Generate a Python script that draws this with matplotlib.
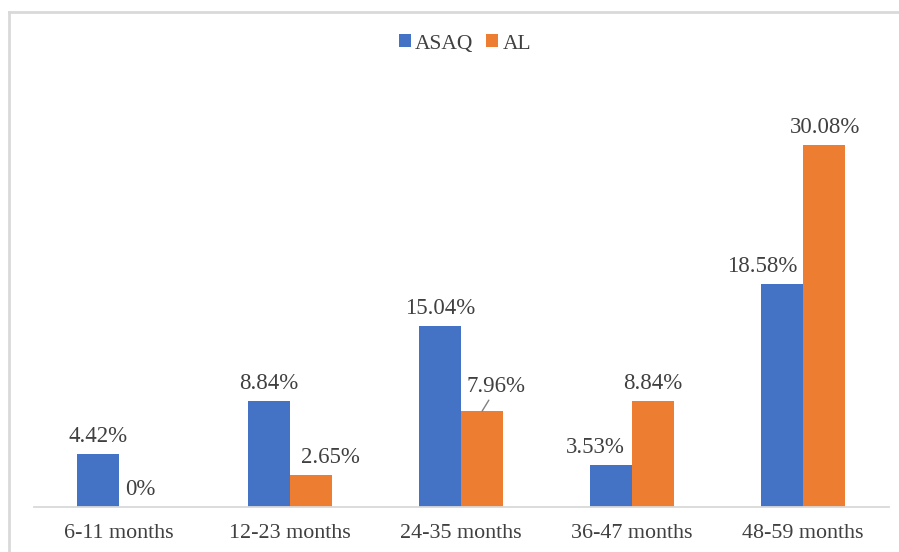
import matplotlib
matplotlib.use("Agg")
import matplotlib.pyplot as plt
import numpy as np
from matplotlib.lines import Line2D

categories = ["6-11 months", "12-23 months", "24-35 months", "36-47 months", "48-59 months"]
asaq = [4.42, 8.84, 15.04, 3.53, 18.58]
al = [0.0, 2.65, 7.96, 8.84, 30.08]
asaq_labels = ["4.42%", "8.84%", "15.04%", "3.53%", "18.58%"]
al_labels = ["0%", "2.65%", "7.96%", "8.84%", "30.08%"]

plt.rcParams['font.family'] = ['Liberation Serif', 'DejaVu Serif']

W, H = 899, 552
fig = plt.figure(figsize=(W / 100, H / 100), dpi=100)
fig.patch.set_facecolor("white")

# outer border (left and top visible)
fig.add_artist(Line2D([9 / W, 9 / W], [0, 1 - 12 / H], transform=fig.transFigure,
                      color="#D9D9D9", lw=2))
fig.add_artist(Line2D([9 / W, 1.0], [1 - 12 / H, 1 - 12 / H], transform=fig.transFigure,
                      color="#D9D9D9", lw=2))

left, right = 33.5 / W, 888.5 / W
bottom = (H - 507) / H
top = (H - 86) / H
ax = fig.add_axes([left, bottom, right - left, top - bottom])

x = np.arange(len(categories))
bw = 0.246
blue = "#4472C4"
orange = "#ED7D31"
ax.bar(x - bw / 2, asaq, bw, color=blue, label="ASAQ")
ax.bar(x + bw / 2, al, bw, color=orange, label="AL")

ax.set_xlim(-0.5, len(categories) - 0.5)
ax.set_ylim(0, 35)
ax.set_yticks([])
for s in ["top", "right", "left"]:
    ax.spines[s].set_visible(False)
ax.spines["bottom"].set_color("#D9D9D9")
ax.spines["bottom"].set_linewidth(1.3)
ax.set_xticks(x)
ax.set_xticklabels(categories, fontsize=15.8, color="#404040")
ax.tick_params(axis="x", length=0, pad=12)

lc = "#404040"
fs = 16.5
# horizontal nudges of data labels (points), as placed in the original
asaq_dx = [0, 0, 0, -11, -14]
al_dx = [0, 14, 10, 0, 1]
for i, (v, t) in enumerate(zip(asaq, asaq_labels)):
    ax.annotate(t, (x[i] - bw / 2, v), xytext=(asaq_dx[i], 5), textcoords="offset points",
                ha="center", va="bottom", fontsize=fs, color=lc)
for i, (v, t) in enumerate(zip(al, al_labels)):
    if i == 2:
        ax.annotate(t, (x[i] + bw / 2, v), xytext=(al_dx[i], 10), textcoords="offset points",
                    ha="center", va="bottom", fontsize=fs, color=lc,
                    arrowprops=dict(arrowstyle="-", color="#808080", lw=1,
                                    shrinkA=0, shrinkB=0,
                                    relpos=(0.42, 0.05)))
    else:
        ax.annotate(t, (x[i] + bw / 2, v), xytext=(al_dx[i], 5), textcoords="offset points",
                    ha="center", va="bottom", fontsize=fs, color=lc)

leg = fig.legend(loc="center", bbox_to_anchor=(465 / W, 1 - 44 / H), ncol=2, frameon=False,
                 fontsize=15.5, handlelength=0.55, handleheight=0.55, handletextpad=0.2,
                 columnspacing=0.6, labelcolor="#404040")

fig.savefig("out.png", dpi=100)
